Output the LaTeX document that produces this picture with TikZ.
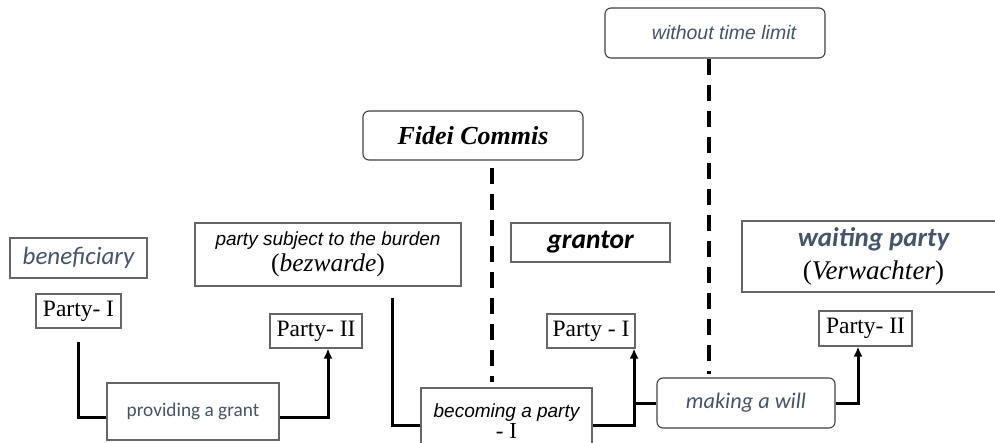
\documentclass[tikz,border=0pt]{standalone}
\usepackage{fontspec}
\setmainfont{Liberation Serif}
\newfontfamily\calibri{Carlito}
\newfontfamily\arial{Liberation Sans}
\usetikzlibrary{arrows.meta}
\definecolor{slate}{HTML}{44546A}
\definecolor{bord}{HTML}{666666}
\tikzset{
  x=1pt, y=-1pt,
  box/.style={draw=bord, line width=1.1pt, inner sep=0pt, align=center, fill=white},
  rbox/.style={box, rounded corners=6pt, draw=black!75},
  conn/.style={line width=3pt, line join=miter},
  arr/.style={conn, -{Latex[length=10pt,width=9pt]}},
  dashline/.style={line width=3.5pt, dash pattern=on 16pt off 10pt},
  ptxt/.style={font=\fontsize{23.5}{26}\selectfont},
}
\begin{document}
\begin{tikzpicture}
\useasboundingbox (0,0) rectangle (995,443);
% nodes
\node[box, minimum width=137pt, minimum height=40pt, font=\calibri\itshape\fontsize{25}{28}\selectfont, text=slate] (ben) at (78.5,258) {beneficiary};
\node[box, ptxt, minimum width=85pt, minimum height=34pt] (p1L) at (78.5,311) {Party- I};
\node[box, minimum width=266pt, minimum height=63pt, font=\fontsize{19}{26}\selectfont] (subj) at (328,254.5)
  {{\arial\itshape party subject to the burden}\\{\fontsize{25.5}{26}\selectfont (\textit{bezwarde})}};
\node[box, ptxt, minimum width=92pt, minimum height=34pt] (p2L) at (316,331) {Party- II};
\node[box, minimum width=172pt, minimum height=57pt, font=\calibri\fontsize{19.3}{22}\selectfont, text=slate] (grant) at (193,411.5) {providing a grant};
\node[rbox, minimum width=220pt, minimum height=49pt, font=\bfseries\itshape\fontsize{26}{30}\selectfont] (fidei) at (473,135.5) {Fidei Commis};
\node[box, minimum width=159pt, minimum height=39pt, font=\calibri\bfseries\itshape\fontsize{27.5}{30}\selectfont] (grantor) at (590.5,242.5) {grantor};
\node[box, minimum width=171pt, minimum height=66pt, font=\fontsize{19}{21}\selectfont] (becoming) at (506.5,421)
  {{\arial\itshape becoming a party}\\{\fontsize{23}{21}\selectfont - I}};
\node[box, ptxt, minimum width=88pt, minimum height=34pt] (p1R) at (591,331) {Party - I};
\node[rbox, minimum width=178pt, minimum height=50pt, font=\calibri\itshape\fontsize{22.3}{26}\selectfont, text=slate] (will) at (746,403) {making a will};
\node[rbox, minimum width=220pt, minimum height=50pt, font=\arial\itshape\fontsize{19.5}{22}\selectfont, text=slate] (wtl) at (715,33) {\hspace*{18pt}without time limit};
\node[box, minimum width=263pt, minimum height=71pt, font=\fontsize{27}{33}\selectfont] (wait) at (873.5,256.5)
  {{\calibri\bfseries\itshape\color{slate}waiting party}\\(\textit{Verwachter})};
\node[box, ptxt, minimum width=93pt, minimum height=35pt] (p2R) at (865.5,328.5) {Party- II};
\coordinate (jn) at ([xshift=-1.5pt]p1R.south east);
% connectors
\draw[conn] ([yshift=-13pt]p1L.south) |- ([yshift=-5.5pt]grant.west);
\draw[arr] ([yshift=-5.5pt]grant.east) -| ([xshift=12pt]p2L.south);
\draw[conn] ([xshift=64pt,yshift=-11pt]subj.south) |- ([yshift=-4pt]becoming.west);
\draw[arr] ([yshift=-4pt]becoming.east) -| (jn);
\draw[conn] (will.west) -- (will.west -| jn);
\draw[arr] (will.east) -| ([xshift=-7.5pt]p2R.south);
\draw[dashline] ([xshift=19pt,yshift=-7pt]fidei.south) -- ([xshift=-14.5pt,yshift=5pt]becoming.north);
\draw[dashline] ([xshift=-6pt]wtl.south) -- ([xshift=-37pt,yshift=3pt]will.north);
\end{tikzpicture}
\end{document}
